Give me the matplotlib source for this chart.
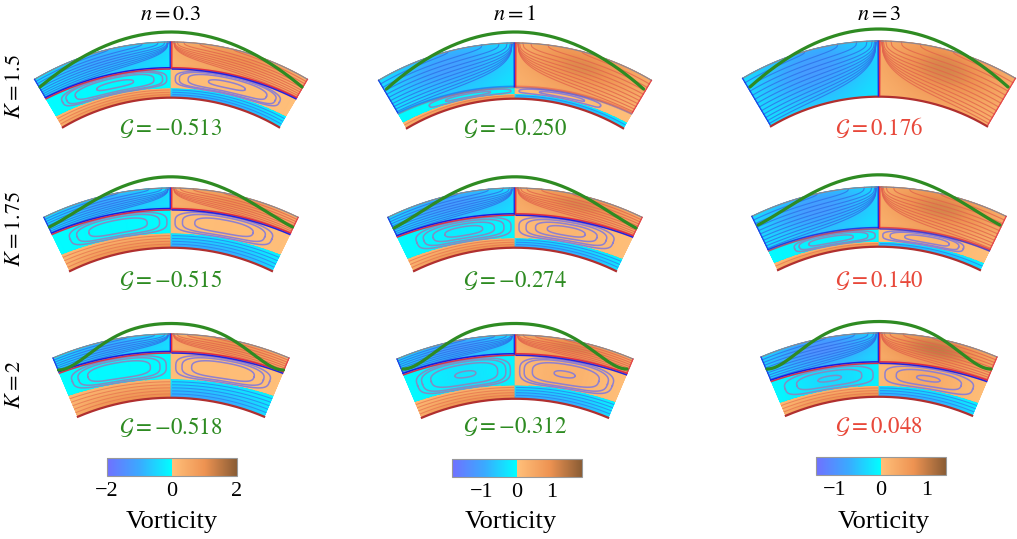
import numpy as np
import matplotlib
matplotlib.use('Agg')
import matplotlib.pyplot as plt
from matplotlib.cm import ScalarMappable
from matplotlib.colors import LinearSegmentedColormap, Normalize

plt.rcParams['font.family'] = ['Liberation Serif', 'DejaVu Serif']
plt.rcParams['mathtext.fontset'] = 'stix'

n_labels = ['$n = 0.3$', '$n = 1$', '$n = 3$']
K_labels = ['$K = 1.5$', '$K = 1.75$', '$K = 2$']
G_values = [[-0.513, -0.250, 0.176],
            [-0.515, -0.274, 0.140],
            [-0.518, -0.312, 0.048]]

# outer / inner wall radius and half angle, one per row (pixels, degrees)
R_outer = [268, 290, 302]
R_inner = [213, 231, 239]
half_angle = [30.6, 26.0, 23.0]
center_x = [171, 515, 879]
top_y = [[42, 43, 41], [188, 188, 187], [334, 335, 333]]

# interface and strip height as fraction of the gap, at the centre and the end
iface_mid = [[.52, .20, 0], [.64, .55, .30], [.71, .69, .53]]
iface_end = [[.60, .30, 0], [.69, .64, .36], [.75, .74, .59]]
strip_mid = [[.17, .08, 0], [.24, .16, .08], [.29, .21, .17]]
strip_end = [[.23, .12, 0], [.31, .23, .13], [.36, .27, .22]]
iface_strength = [[1, .35, 0], [1, 1, .75], [1, 1, 1]]

# colour strength of the layers
top_amp = [[.50, .58, .62], [.50, .60, .62], [.50, .60, .72]]
low_amp = [[.03, .05, 0], [.03, .10, .10], [.03, .15, .22]]

# closed loops in the lower layer
eye_a = [[.45, .42, 0], [.46, .45, .48], [.48, .46, .47]]
loop_out = [[.90, .74, 0], [.88, .87, .78], [.93, .93, .93]]
loop_t = [[[.35, .75, .92, 1.0], [.55, 1.0], []],
          [[.6, .85, 1.0], [.4, .65, .85, 1.0], [.55, .85, 1.0]],
          [[.65, .85, .98], [.22, .7, .88, .98], [.25, .7, .95]]]
n_strip = [[3, 1, 0], [4, 3, 1], [5, 4, 3]]
n_top = [[9, 10, 12], [8, 9, 10], [7, 8, 9]]

# green curve: peak y, end y, half width and the drop at 0, .25, .5, .75, 1
green_peak = [[32, 32, 29], [177, 177, 175], [323, 323, 321]]
green_end = [[87, 89, 87], [227, 228, 225], [370, 369, 369]]
green_half = [[131, 128.5, 129], [121.5, 121, 121], [112.5, 112, 112]]
green_pos = [0, .25, .5, .75, 1]
green_drop = [[0, .0625, .25, .5625, 1],
              [0, .07, .30, .64, 1],
              [0, .08, .29, .70, 1]]

# colour bars
bar_left = [107, 452, 816]
bar_top = [458, 459, 457]
bar_limit = [2, 1.86, 1.41]
bar_ticks = [[-2, 0, 2], [-1, 0, 1], [-1, 0, 1]]
vort_x = [172, 511, 884]

colors = [(0, '#7070ff'), (.25, '#3aaaff'), (.5, '#00ffff'),
          (.5, '#ffc07a'), (.75, '#ee9352'), (1, '#8a5c34')]
vort_map = LinearSegmentedColormap.from_list('vort', colors, N=512)

W, H = 1017, 539
fig = plt.figure(figsize=(W/100, H/100), dpi=100)
ax = fig.add_axes([0, 0, 1, 1])
ax.set_xlim(0, W)
ax.set_ylim(H, 0)
ax.axis('off')


def to_xy(u, v, r, c):
    R = R_inner[r] + v*(R_outer[r]-R_inner[r])
    th = np.radians(half_angle[r])*u
    yc = top_y[r][c]+R_outer[r]
    return center_x[c]+R*np.sin(th), yc-R*np.cos(th)


def iface(a, r, c):
    return iface_mid[r][c]+(iface_end[r][c]-iface_mid[r][c])*a**2


def strip(a, r, c):
    return strip_mid[r][c]+(strip_end[r][c]-strip_mid[r][c])*a**2


def field(u, v, r, c):
    a = np.abs(u)
    s = np.where(u < 0, -1.0, 1.0)
    h = iface(a, r, c)
    b = strip(a, r, c)
    w = np.clip((v-h)/(1-h), 0, 1)
    g = np.exp(-((a-.5)/.42)**2)*(.3+.7*np.exp(-((w-.65)/.45)**2))
    z = s*(top_amp[r][c]*(.2+.8*g)+.3*iface_strength[r][c]*np.exp(-np.clip(v-h, 0, 1)/.03))
    mid = (v < h) & (v >= b)
    low = (.01+low_amp[r][c]*np.exp(-((a-.45)/.4)**2))*s
    z = np.where(mid, low, z)
    z = np.where(v < b, -s*(.12+.4*(1-v/np.maximum(b, .01)))*(1-.6*a**4), z)
    return z


def draw_top_lines(r, c):
    for i in range(1, n_top[r][c]+1):
        w0 = (i/(n_top[r][c]+1))**1.2
        hit = .02+.9*w0**6
        a = np.linspace(hit, 1, 120)
        d = (1-np.clip((1-a)/(1-hit), 0, 1)**2.5)**(1/2.5)
        w = 1-(1-w0)*d
        h = iface(a, r, c)
        v = h+w*(1-h)
        for sgn, col in [(-1, '#2f6fe8'), (1, '#e2654c')]:
            x, y = to_xy(sgn*a, v, r, c)
            ax.plot(x, y, color=col, lw=.8, alpha=.8, zorder=3)


def draw_loops(r, c):
    phi = np.linspace(0, 2*np.pi, 240)
    for t in loop_t[r][c]:
        p = 2+1.3*t
        X = np.sign(np.cos(phi))*np.abs(np.cos(phi))**(2/p)
        Y = np.sign(np.sin(phi))*np.abs(np.sin(phi))**(2/p)
        ae = eye_a[r][c]
        a = ae+t*np.where(X > 0, loop_out[r][c]-ae, ae-.035)*X
        top = iface(a, r, c)-.025
        bot = strip(a, r, c)
        mid = (top+bot)/2
        v = mid+t*(top-mid)*Y
        for sgn, col in [(-1, '#7f8fc4'), (1, '#8f80d0')]:
            x, y = to_xy(sgn*a, v, r, c)
            ax.plot(x, y, color=col, lw=1.1, zorder=3)


def draw_strip_lines(r, c):
    n = n_strip[r][c]
    a = np.linspace(.015, 1, 80)
    for i in range(1, n+1):
        v = strip(a, r, c)*i/(n+1)
        for sgn, col in [(-1, '#e8744f'), (1, '#2c7cf0')]:
            x, y = to_xy(sgn*a, v, r, c)
            ax.plot(x, y, color=col, lw=.75, alpha=.75, zorder=3)


def draw_walls(r, c):
    a = np.linspace(-1, 1, 200)
    x, y = to_xy(a, np.ones_like(a), r, c)
    ax.plot(x, y, color='#8d8590', lw=.9, zorder=4)
    x, y = to_xy(a, np.zeros_like(a)-.012, r, c)
    ax.plot(x, y, color='#b02f2f', lw=1.6, zorder=4)
    # side walls
    vs = np.linspace(iface_end[r][c]+.02, 1, 20)
    x, y = to_xy(-np.ones_like(vs), vs, r, c)
    ax.plot(x, y, color='#2222e0', lw=.9, alpha=.8, zorder=4)
    x, y = to_xy(np.ones_like(vs), vs, r, c)
    ax.plot(x, y, color='#e0304a', lw=.9, alpha=.8, zorder=4)
    # centre line in the upper layer
    vs = np.linspace(iface_mid[r][c], 1, 20)
    x, y = to_xy(np.full_like(vs, -.006), vs, r, c)
    ax.plot(x, y, color='#2020e0', lw=.9, zorder=4)
    x, y = to_xy(np.full_like(vs, .006), vs, r, c)
    ax.plot(x, y, color='#e02040', lw=.9, zorder=4)
    # interface, two tone
    k = iface_strength[r][c]
    if k > 0:
        a = np.linspace(.01, 1, 100)
        h = iface(a, r, c)
        for sgn, up, down in [(-1, '#1a1ae0', '#d8304a'), (1, '#e02a44', '#2222e0')]:
            x, y = to_xy(sgn*a, h+.012, r, c)
            ax.plot(x, y, color=up, lw=1.1, alpha=k, zorder=4)
            x, y = to_xy(sgn*a, h-.012, r, c)
            ax.plot(x, y, color=down, lw=1.1, alpha=k, zorder=4)


def draw_green(r, c):
    pos = np.array(green_pos)
    drop = np.array(green_drop[r])
    fit = np.polyfit(np.r_[-pos[::-1], pos[1:]], np.r_[drop[::-1], drop[1:]], 6)
    s = np.linspace(-1, 1, 200)
    x = center_x[c]+s*green_half[r][c]
    y = green_peak[r][c]+np.polyval(fit, s)*(green_end[r][c]-green_peak[r][c])
    ax.plot(x, y, color='#2e8b22', lw=2.3, zorder=5, solid_capstyle='round')


for r in range(3):
    for c in range(3):
        u, v = np.meshgrid(np.linspace(-1, 1, 361), np.linspace(0, 1, 181))
        x, y = to_xy(u, v, r, c)
        ax.pcolormesh(x, y, field(u, v, r, c), cmap=vort_map, vmin=-1, vmax=1,
                      shading='gouraud', zorder=2)
        draw_top_lines(r, c)
        draw_loops(r, c)
        draw_strip_lines(r, c)
        draw_walls(r, c)
        draw_green(r, c)
        g = G_values[r][c]
        col = '#2e8b22' if g < 0 else '#e8483a'
        ax.text(center_x[c], [128, 280, 427][r], r'$\mathcal{G} = %.3f$' % g,
                color=col, fontsize=16.5, ha='center', va='center')
ax.set_xlim(0, W)
ax.set_ylim(H, 0)

for c in range(3):
    ax.text(center_x[c], 15, n_labels[c], fontsize=16, ha='center', va='center')
    ax.text(vort_x[c], 522, 'Vorticity', fontsize=19, ha='center', va='center')
for r in range(3):
    ax.text(16, [87, 229, 384][r], K_labels[r], fontsize=16, rotation=90,
            ha='center', va='center')

for c in range(3):
    cax = fig.add_axes([bar_left[c]/W, 1-(bar_top[c]+18)/H, 130/W, 18/H])
    sm = ScalarMappable(Normalize(-bar_limit[c], bar_limit[c]), vort_map)
    cb = fig.colorbar(sm, cax=cax, orientation='horizontal', ticks=bar_ticks[c])
    cb.ax.tick_params(length=0, labelsize=16, pad=4)
    cb.outline.set_edgecolor('#999999')
    cb.outline.set_linewidth(.8)

fig.savefig('out.png', dpi=100)
